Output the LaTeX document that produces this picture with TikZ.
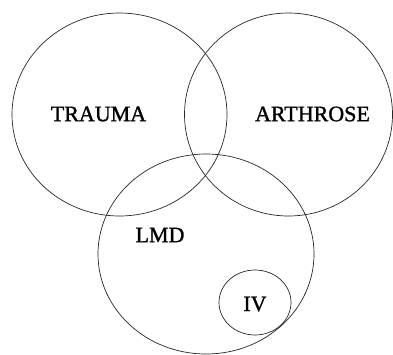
\documentclass[tikz,border=0pt]{standalone}
\usepackage{fontspec}
\setmainfont{Liberation Serif}
\newfontfamily\setfont[FakeBold=1.2]{Liberation Serif}

\begin{document}
\begin{tikzpicture}[
    x = 1pt,
    y = -1pt,
    set/.style = {
      draw = black!85,
      line width = 0.7pt
    },
    label/.style = {
      inner sep = 0pt,
      font = \setfont\fontsize{22}{22}\selectfont
    }
  ]
  \useasboundingbox (0,0) rectangle (393,354);
  \coordinate (T) at (119.5,114.5);
  \coordinate (A) at (288.5,114.5);
  \coordinate (L) at (206,254);
  \coordinate (I) at (255,302.5);
  \scope[]
	\draw[set] (T) ellipse [x radius=107.5, y radius=101.5];
	\draw[set] (A) ellipse [x radius=104, y radius=101.5];
	\draw[set] (L) ellipse [x radius=108, y radius=100];
	\draw[set] (I) ellipse [x radius=36, y radius=32.5];

	\node[label] (trauma) at (98.5,114) {TRAUMA};
	\node[label] (arthrose) at (312.5,114) {ARTHROSE};
	\node[label] (lmd) at (160,235) {LMD};
	\node[label] (iv) at (255,304) {IV};
  \endscope
\end{tikzpicture}
\end{document}
